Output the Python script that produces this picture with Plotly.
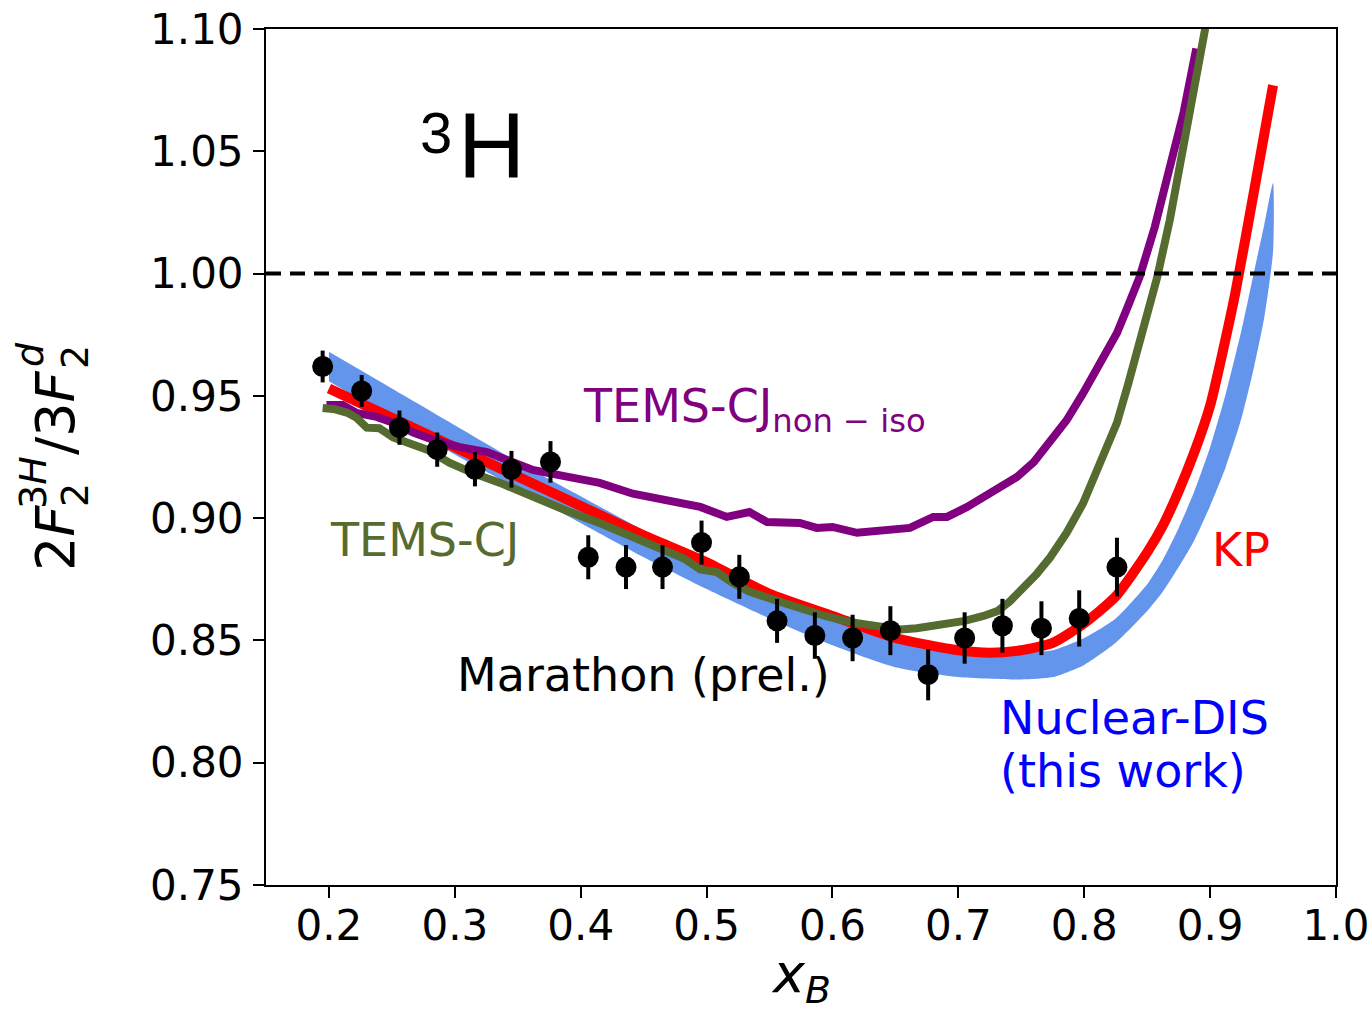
import plotly.graph_objects as go

# ---------------- data ----------------
marathon_x = [0.195, 0.226, 0.256, 0.286, 0.316, 0.345, 0.376, 0.406, 0.436, 0.465, 0.496,
              0.526, 0.556, 0.586, 0.616, 0.646, 0.676, 0.705, 0.735, 0.766, 0.796, 0.826]
marathon_y = [0.962, 0.952, 0.937, 0.928, 0.920, 0.920, 0.923, 0.884, 0.880, 0.880, 0.890,
              0.876, 0.858, 0.852, 0.851, 0.854, 0.836, 0.851, 0.856, 0.855, 0.859, 0.880]
marathon_err = [0.0065, 0.0065, 0.007, 0.007, 0.007, 0.0075, 0.0085, 0.009, 0.009, 0.009, 0.009,
                0.009, 0.009, 0.0095, 0.0095, 0.01, 0.0105, 0.0105, 0.011, 0.011, 0.0115, 0.012]

band_x = [0.2, 0.25, 0.3, 0.35, 0.4, 0.45, 0.5, 0.55, 0.6, 0.65, 0.7, 0.75, 0.775, 0.8, 0.825,
          0.85, 0.8625, 0.875, 0.8875, 0.9, 0.9125, 0.925, 0.935, 0.943, 0.95]
band_hi = [0.968, 0.953, 0.938, 0.923, 0.909, 0.895, 0.882, 0.869, 0.858, 0.850, 0.846, 0.845,
           0.846, 0.851, 0.859, 0.873, 0.883, 0.896, 0.911, 0.929, 0.951, 0.977, 1.001, 1.020, 1.037]
band_lo = [0.956, 0.941, 0.926, 0.912, 0.898, 0.884, 0.871, 0.859, 0.848, 0.839, 0.835, 0.834,
           0.835, 0.840, 0.849, 0.862, 0.870, 0.880, 0.891, 0.905, 0.921, 0.941, 0.962, 0.982, 1.009]

kp_x = [0.2, 0.25, 0.3, 0.35, 0.4, 0.45, 0.5, 0.55, 0.6, 0.65, 0.7, 0.725, 0.75, 0.775, 0.8,
        0.825, 0.85, 0.8625, 0.875, 0.8875, 0.9, 0.91, 0.92, 0.935, 0.95]
kp_y = [0.953, 0.941, 0.929, 0.917, 0.905, 0.893, 0.882, 0.869, 0.860, 0.851, 0.846, 0.845,
        0.846, 0.849, 0.857, 0.868, 0.886, 0.897, 0.911, 0.927, 0.946, 0.968, 0.992, 1.034, 1.077]

cj_x = [0.195, 0.205, 0.215, 0.222, 0.23, 0.24, 0.251, 0.264, 0.278, 0.296, 0.314, 0.336, 0.362,
        0.389, 0.415, 0.4415, 0.4685, 0.482, 0.495, 0.508, 0.521, 0.534, 0.554, 0.574, 0.594,
        0.614, 0.627, 0.64, 0.654, 0.667, 0.68, 0.691, 0.705, 0.72, 0.731, 0.741, 0.751, 0.762,
        0.773, 0.786, 0.799, 0.812, 0.826, 0.835, 0.844, 0.851, 0.858, 0.868, 0.878, 0.887,
        0.896, 0.905]
cj_y = [0.945, 0.9445, 0.943, 0.941, 0.937, 0.9368, 0.933, 0.931, 0.928, 0.9226, 0.9185, 0.9144,
        0.9087, 0.903, 0.898, 0.8923, 0.886, 0.8835, 0.879, 0.878, 0.8735, 0.870, 0.8665, 0.863,
        0.860, 0.8575, 0.8565, 0.8555, 0.8545, 0.855, 0.856, 0.8575, 0.858, 0.860, 0.862, 0.866,
        0.871, 0.877, 0.884, 0.894, 0.906, 0.921, 0.939, 0.955, 0.9716, 0.985, 0.9986, 1.022,
        1.049, 1.074, 1.10, 1.125]

noniso_x = [0.198, 0.211, 0.222, 0.238, 0.251, 0.267, 0.283, 0.304, 0.3255, 0.336, 0.362, 0.389,
            0.415, 0.4415, 0.4685, 0.495, 0.516, 0.5265, 0.534, 0.548, 0.574, 0.5875, 0.600,
            0.6195, 0.640, 0.6615, 0.680, 0.691, 0.707, 0.7196, 0.733, 0.7465, 0.760, 0.7727,
            0.786, 0.799, 0.8125, 0.826, 0.835, 0.844, 0.856, 0.868, 0.879, 0.889]
noniso_y = [0.9463, 0.9463, 0.943, 0.9414, 0.939, 0.935, 0.932, 0.929, 0.927, 0.925, 0.9197,
            0.917, 0.9144, 0.910, 0.9074, 0.9046, 0.9005, 0.902, 0.9025, 0.8984, 0.898, 0.896,
            0.8964, 0.894, 0.895, 0.896, 0.9005, 0.9005, 0.9046, 0.9087, 0.9125, 0.9168, 0.923,
            0.9307, 0.940, 0.951, 0.963, 0.9757, 0.987, 0.9986, 1.019, 1.042, 1.066, 1.092]

x_ticks = [0.2, 0.3, 0.4, 0.5, 0.6, 0.7, 0.8, 0.9, 1.0]
x_tick_labels = ["0.2", "0.3", "0.4", "0.5", "0.6", "0.7", "0.8", "0.9", "1.0"]
y_ticks = [0.75, 0.80, 0.85, 0.90, 0.95, 1.00, 1.05, 1.10]
y_tick_labels = ["0.75", "0.80", "0.85", "0.90", "0.95", "1.00", "1.05", "1.10"]

# ---------------- figure ----------------
W, H = 1371, 1014
ML, MR, MT, MB = 266, 35, 29, 129
PW, PH = W - ML - MR, H - MT - MB
FONT = "DejaVu Sans"

fig = go.Figure()

# Nuclear-DIS band
fig.add_trace(go.Scatter(
    x=band_x + band_x[::-1], y=band_hi + band_lo[::-1],
    fill="toself", fillcolor="#6495ED", mode="lines",
    line=dict(width=0, color="#6495ED", shape="spline", smoothing=0.6),
    hoverinfo="skip", showlegend=False))

# KP
fig.add_trace(go.Scatter(x=kp_x, y=kp_y, mode="lines",
                         line=dict(color="#FF0000", width=10, shape="spline", smoothing=0.6),
                         showlegend=False))
# TEMS-CJ non-iso
fig.add_trace(go.Scatter(x=noniso_x, y=noniso_y, mode="lines",
                         line=dict(color="#800080", width=8), showlegend=False))
# TEMS-CJ
fig.add_trace(go.Scatter(x=cj_x, y=cj_y, mode="lines",
                         line=dict(color="#556B2F", width=8), showlegend=False))

# Marathon data
fig.add_trace(go.Scatter(
    x=marathon_x, y=marathon_y, mode="markers",
    marker=dict(color="black", size=21),
    error_y=dict(type="data", array=marathon_err, color="black", thickness=4, width=0),
    showlegend=False))

# dashed unity line
fig.add_shape(type="line", xref="x", yref="y", x0=0.15, x1=1.0, y0=1.0, y1=1.0,
              line=dict(color="black", width=4, dash="15px,9px"))

def px2paper(px, py):
    return (px - ML) / PW, (MT + PH - py) / PH

annots = []
def add_text(text, px, py, size, color="black", xanchor="center", yanchor="middle",
             family=FONT, angle=0):
    xp, yp = px2paper(px, py)
    annots.append(dict(text=text, x=xp, y=yp, xref="paper", yref="paper",
                       xanchor=xanchor, yanchor=yanchor, showarrow=False,
                       textangle=angle, font=dict(family=family, size=size, color=color)))

# labels in the plot
add_text("H", 491, 146, 93, family="Liberation Sans")
add_text("3", 436, 132, 58, family="Liberation Sans")
add_text("TEMS-CJ<sub>non \u2212 iso</sub>", 581, 410, 46, color="#800080", xanchor="left")
add_text("TEMS-CJ", 328, 540, 46, color="#556B2F", xanchor="left")
add_text("Marathon (prel.)", 455, 675, 46, color="black", xanchor="left")
add_text("KP", 1210, 550, 46, color="#FF0000", xanchor="left")
add_text("Nuclear-DIS", 998, 718, 46, color="#0000FF", xanchor="left")
add_text("(this work)", 998, 771, 46, color="#0000FF", xanchor="left")

# x-axis label
add_text("<i>x</i><sub><i>B</i></sub>", 801, 977, 54)

# y-axis label, built from pieces (rotated)
add_text("2<i>F</i>", 55, 538, 54, angle=-90)
add_text("2", 75, 495, 38, angle=-90)
add_text("3<i>H</i>", 33, 483, 38, angle=-90)
add_text("/3<i>F</i>", 55, 413, 54, angle=-90)
add_text("<i>d</i>", 30, 355, 38, angle=-90)
add_text("2", 75, 357, 38, angle=-90)

fig.update_layout(
    width=W, height=H,
    margin=dict(l=ML, r=MR, t=MT, b=MB, pad=0, autoexpand=False),
    paper_bgcolor="white", plot_bgcolor="white",
    font=dict(family=FONT, color="black"),
    annotations=annots,
    xaxis=dict(range=[0.15, 1.0], tickvals=x_ticks, ticktext=x_tick_labels,
               showgrid=False, zeroline=False, showline=True, linecolor="black",
               linewidth=2, mirror=True, ticks="outside", ticklen=11, tickwidth=2,
               tickcolor="black", tickfont=dict(size=42, family=FONT),
               ticklabelstandoff=-8, automargin=False),
    yaxis=dict(range=[0.75, 1.10], tickvals=y_ticks, ticktext=y_tick_labels,
               showgrid=False, zeroline=False, showline=True, linecolor="black",
               linewidth=2, mirror=True, ticks="outside", ticklen=11, tickwidth=2,
               tickcolor="black", tickfont=dict(size=42, family=FONT),
               ticklabelstandoff=1, automargin=False),
)

fig.write_html("out.html")
